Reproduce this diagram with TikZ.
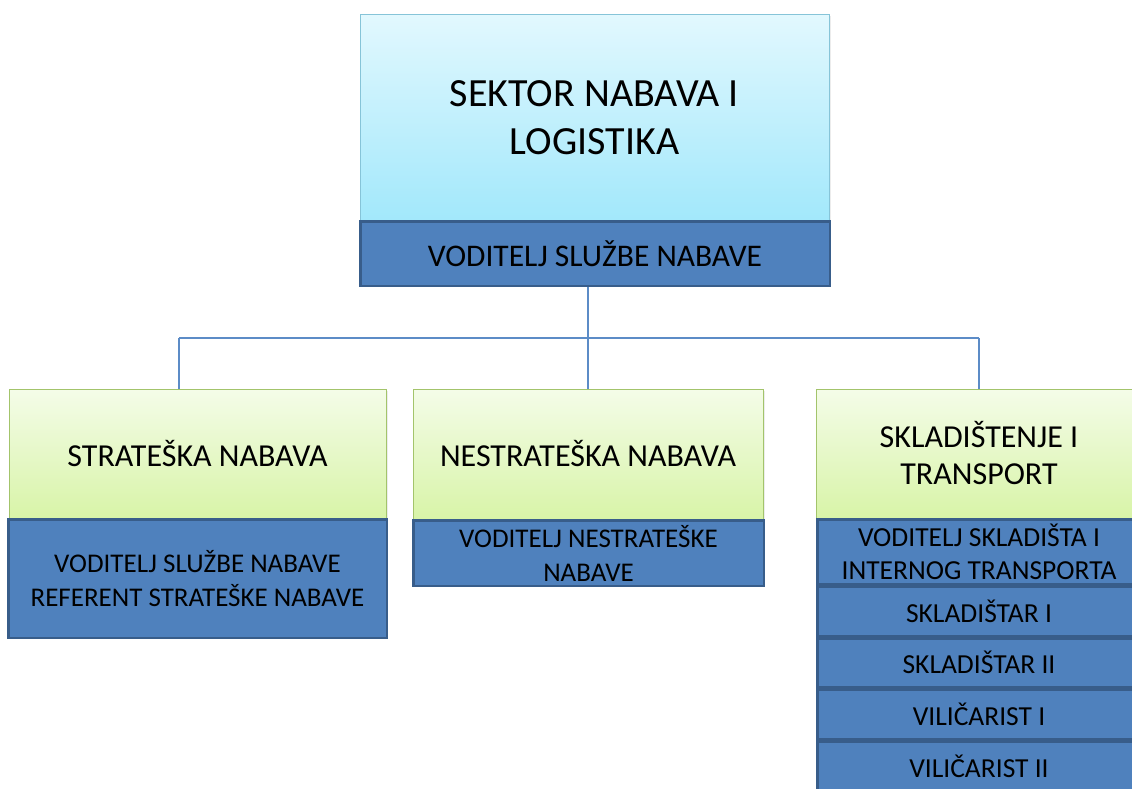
\documentclass[tikz,border=0pt]{standalone}
\usepackage{fontspec}
\setmainfont{Carlito}
\usetikzlibrary{shadows}
\definecolor{headA}{HTML}{E2F8FE}
\definecolor{headB}{HTML}{A2E8FB}
\definecolor{headLine}{HTML}{86C4D8}
\definecolor{blueF}{HTML}{4F81BD}
\definecolor{blueLine}{HTML}{385D8A}
\definecolor{greenA}{HTML}{F4FCE8}
\definecolor{greenB}{HTML}{D8F4A8}
\definecolor{greenLine}{HTML}{A3C46B}
\definecolor{connC}{HTML}{5C8CC7}
\tikzset{
  headbox/.style={draw=headLine, line width=0.8pt, top color=headA, bottom color=headB,
    align=center, inner sep=0pt, font=\fontsize{40}{48}\selectfont,
    drop shadow={opacity=0.15, shadow xshift=1.5pt, shadow yshift=-1.5pt}},
  greenbox/.style={draw=greenLine, line width=0.8pt, top color=greenA, bottom color=greenB,
    align=center, inner sep=0pt, font=\fontsize{32}{37}\selectfont,
    drop shadow={opacity=0.15, shadow xshift=1.5pt, shadow yshift=-1.5pt}},
  bluebox/.style={draw=blueLine, line width=2.5pt, fill=blueF,
    align=center, inner sep=0pt, font=\fontsize{27}{34}\selectfont},
  rowbox/.style={bluebox, minimum width=323.5pt, font=\fontsize{27.5}{33}\selectfont},
  conn/.style={draw=connC, line width=1.3pt}
}
\begin{document}
\begin{tikzpicture}[x=1pt,y=-1pt]
\useasboundingbox (0,0) rectangle (1132,788);
\clip (0,0) rectangle (1132,788);
% top
\node[headbox, minimum width=469pt, minimum height=207pt] (sektor) at (594.5,117.5) {SEKTOR NABAVA I\\LOGISTIKA};
\node[bluebox, minimum width=469.5pt, minimum height=64.5pt, font=\fontsize{31.5}{36}\selectfont] (vsn) at (595,253.5) {VODITELJ SLUŽBE NABAVE};
% left
\node[greenbox, minimum width=377pt, minimum height=129pt] (sg) at (197.5,453.5) {STRATEŠKA NABAVA};
\node[bluebox, minimum width=378.5pt, minimum height=118.5pt] (sb) at (197.5,578.5) {VODITELJ SLUŽBE NABAVE\\REFERENT STRATEŠKE NABAVE};
% middle
\node[greenbox, minimum width=350pt, minimum height=130pt] (ng) at (588,454) {NESTRATEŠKA NABAVA};
\node[bluebox, minimum width=350.5pt, minimum height=65.5pt] (nb) at (588.5,553) {VODITELJ NESTRATEŠKE\\NABAVE};
% right
\node[greenbox, minimum width=326pt, minimum height=129pt] (kg) at (979,453.5) {SKLADIŠTENJE I\\TRANSPORT};
\node[rowbox, minimum height=64.5pt] (k1) at (979,551.5) {VODITELJ SKLADIŠTA I\\INTERNOG TRANSPORTA};
\node[rowbox, minimum height=49.5pt] (k2) at (979,611) {SKLADIŠTAR I};
\node[rowbox, minimum height=48.5pt] (k3) at (979,662.5) {SKLADIŠTAR II};
\node[rowbox, minimum height=49.5pt] (k4) at (979,714) {VILIČARIST I};
\node[rowbox, minimum height=49.5pt] (k5) at (979,766) {VILIČARIST II};
% connectors
\coordinate (jl) at (179,338);
\coordinate (jr) at (979,338);
\draw[conn] (ng.north |- vsn.south) -- (ng.north);
\draw[conn] (jl) -- (jr);
\draw[conn] (jl) -- (jl |- sg.north);
\draw[conn] (jr) -- (kg.north);
\end{tikzpicture}
\end{document}
